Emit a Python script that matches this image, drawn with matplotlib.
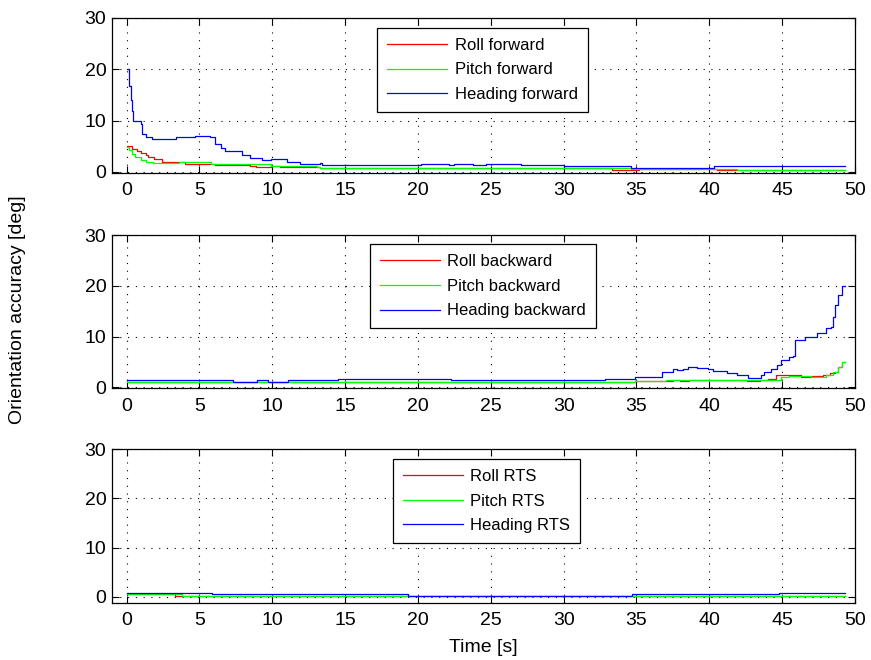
import numpy as np
import matplotlib
matplotlib.use("Agg")
import matplotlib.pyplot as plt

plt.rcParams['font.family'] = ['Liberation Sans', 'DejaVu Sans']

# --- forward filter (step data: time [s], accuracy [deg]) ---
t_roll_fwd = [0, 0.4, 0.7, 1.0, 1.3, 1.5, 1.9, 2.4, 3.4, 4.0, 5.6, 6.1, 8.5, 8.9, 9.9, 10.5, 13.3,
              33.3, 35.2, 40.5, 41.9, 49.3]
v_roll_fwd = [5.0, 4.5, 4.1, 3.7, 3.3, 2.9, 2.5, 2.0, 1.85, 1.6, 1.5, 1.35, 1.2, 1.0, 1.1, 0.9, 0.7,
              0.4, 0.5, 0.4, 0.45, 0.45]
t_pitch_fwd = [0, 0.2, 0.4, 0.6, 1.0, 1.3, 1.8, 3.2, 3.6, 4.3, 5.0, 5.8, 6.8, 8.6, 9.9, 13.1, 13.3,
               34.6, 40.5, 41.9, 49.3]
v_pitch_fwd = [4.9, 4.2, 3.5, 2.9, 2.4, 2.0, 1.7, 1.8, 2.0, 1.85, 1.9, 1.6, 1.5, 1.55, 1.2, 1.0, 0.7,
               0.5, 0.65, 0.45, 0.45]
t_head_fwd = [0, 0.16, 0.27, 0.39, 0.46, 0.96, 1.07, 1.3, 1.76, 3.4, 4.7, 5.76, 6.1, 6.45, 6.79,
              7.93, 8.5, 9.3, 9.88, 10.56, 11.02, 11.93, 13.3, 13.4, 20.2, 22.1, 22.5, 23.8, 24.7,
              27.1, 30.0, 34.6, 40.3, 49.3]
v_head_fwd = [20, 16.7, 14.0, 11.8, 9.9, 9.4, 7.4, 6.8, 6.5, 6.7, 6.9, 6.7, 5.5, 4.75, 4.0,
              3.2, 2.75, 2.4, 2.6, 2.5, 2.0, 1.6, 1.7, 1.35, 1.6, 1.35, 1.6, 1.35, 1.6,
              1.35, 1.2, 0.7, 1.15, 1.15]

# --- backward filter ---
t_roll_bwd = [0, 34.9, 37.5, 38.0, 38.6, 41.2, 42.6, 43.5, 44.0, 44.6, 46.3, 47.0, 47.8, 48.3,
              48.6, 48.85, 49.09, 49.3]
v_roll_bwd = [0.95, 1.28, 1.47, 1.28, 1.47, 1.35, 1.2, 1.35, 1.6, 2.43, 2.1, 2.2, 2.43, 2.74,
              3.05, 3.99, 4.95, 5.0]
t_pitch_bwd = [0, 34.9, 37.0, 40.0, 42.0, 44.9, 45.5, 47.0, 48.0, 48.5, 48.85, 49.09, 49.3]
v_pitch_bwd = [0.95, 1.28, 1.47, 1.4, 1.47, 1.97, 2.2, 2.1, 2.43, 3.05, 3.99, 4.95, 5.0]
t_head_bwd = [0, 7.3, 8.97, 9.7, 11.1, 14.5, 21.7, 22.3, 32.85, 34.9, 36.74, 37.5, 37.8, 38.2,
              38.57, 39.14, 39.9, 40.27, 41.18, 41.87, 42.66, 43.54, 43.77, 44.2, 44.66, 44.89,
              45.46, 45.75, 45.85, 46.6, 47.4, 48.0, 48.37, 48.5, 48.6, 48.85, 49.09, 49.3]
v_head_bwd = [1.35, 1.03, 1.35, 1.03, 1.35, 1.66, 1.6, 1.35, 1.6, 1.97, 3.05, 3.56, 3.37, 3.68,
              3.99, 3.87, 3.56, 3.18, 2.74, 2.43, 1.9, 2.43, 3.05, 3.68, 4.3, 5.39,
              5.9, 6.22, 9.38, 10.0, 10.6, 11.6, 11.9, 13.8, 16.3, 18.2, 20.0, 20.0]

# --- RTS smoother ---
t_roll_rts = [0, 3.3, 4.0, 49.3]
v_roll_rts = [0.5, 0.1, 0.2, 0.2]
t_pitch_rts = [0, 3.8, 49.3]
v_pitch_rts = [0.5, 0.25, 0.25]
t_head_rts = [0, 5.83, 19.3, 34.7, 44.8, 49.3]
v_head_rts = [0.87, 0.54, 0.2, 0.54, 0.87, 0.87]

panels = [
    ([(t_roll_fwd, v_roll_fwd), (t_pitch_fwd, v_pitch_fwd), (t_head_fwd, v_head_fwd)],
     ['Roll forward', 'Pitch forward', 'Heading forward']),
    ([(t_roll_bwd, v_roll_bwd), (t_pitch_bwd, v_pitch_bwd), (t_head_bwd, v_head_bwd)],
     ['Roll backward', 'Pitch backward', 'Heading backward']),
    ([(t_roll_rts, v_roll_rts), (t_pitch_rts, v_pitch_rts), (t_head_rts, v_head_rts)],
     ['Roll RTS', 'Pitch RTS', 'Heading RTS']),
]
colors = ['#ff0000', '#00ff00', '#0000ff']

W, H = 871, 660
fig = plt.figure(figsize=(W / 100, H / 100), dpi=100)

# axes boxes in pixels: (top, bottom), legend top-left corner in axes coords, ymin
ax_rows = [(17.7, 172.7), (235.0, 388.3), (449.0, 602.7)]
leg_pos = [(0.357, 0.935), (0.347, 0.941), (0.378, 0.935)]
ymins = [-0.15, -0.2, -1.2]
left, right = 112, 855

for i, ((series, labels), (top, bot)) in enumerate(zip(panels, ax_rows)):
    ax = fig.add_axes([left / W, 1 - bot / H, (right - left) / W, (bot - top) / H])
    for (t, v), lab, c in zip(series, labels, colors):
        ax.plot(t, v, color=c, lw=0.9, drawstyle='steps-post', label=lab)
    ax.set_xlim(-1, 50)
    ax.set_ylim(ymins[i], 30)
    ax.set_xticks(np.arange(0, 51, 5))
    ax.set_yticks([0, 10, 20, 30])
    ax.tick_params(direction='in', top=True, right=True, length=5, width=0.8,
                   labelsize=14, colors='black')
    ax.tick_params(axis='x', pad=7)
    ax.tick_params(axis='y', pad=4)
    ax.grid(True, color='black', linestyle=(0, (1, 6)), linewidth=0.8)
    for s in ax.spines.values():
        s.set_linewidth(0.9)
    leg = ax.legend(loc='upper left', bbox_to_anchor=leg_pos[i], borderaxespad=0,
                    fontsize=12, handlelength=3.6, handletextpad=0.45,
                    labelspacing=0.58, borderpad=0.6, fancybox=False,
                    edgecolor='black', framealpha=1)
    leg.get_frame().set_linewidth(0.9)

fig.text(18 / W, 1 - 310 / H, 'Orientation accuracy [deg]', rotation=90,
         ha='center', va='center', fontsize=14)
fig.text(483 / W, 1 - 647 / H, 'Time [s]', ha='center', va='center', fontsize=14)

fig.savefig('out.png', dpi=100)
